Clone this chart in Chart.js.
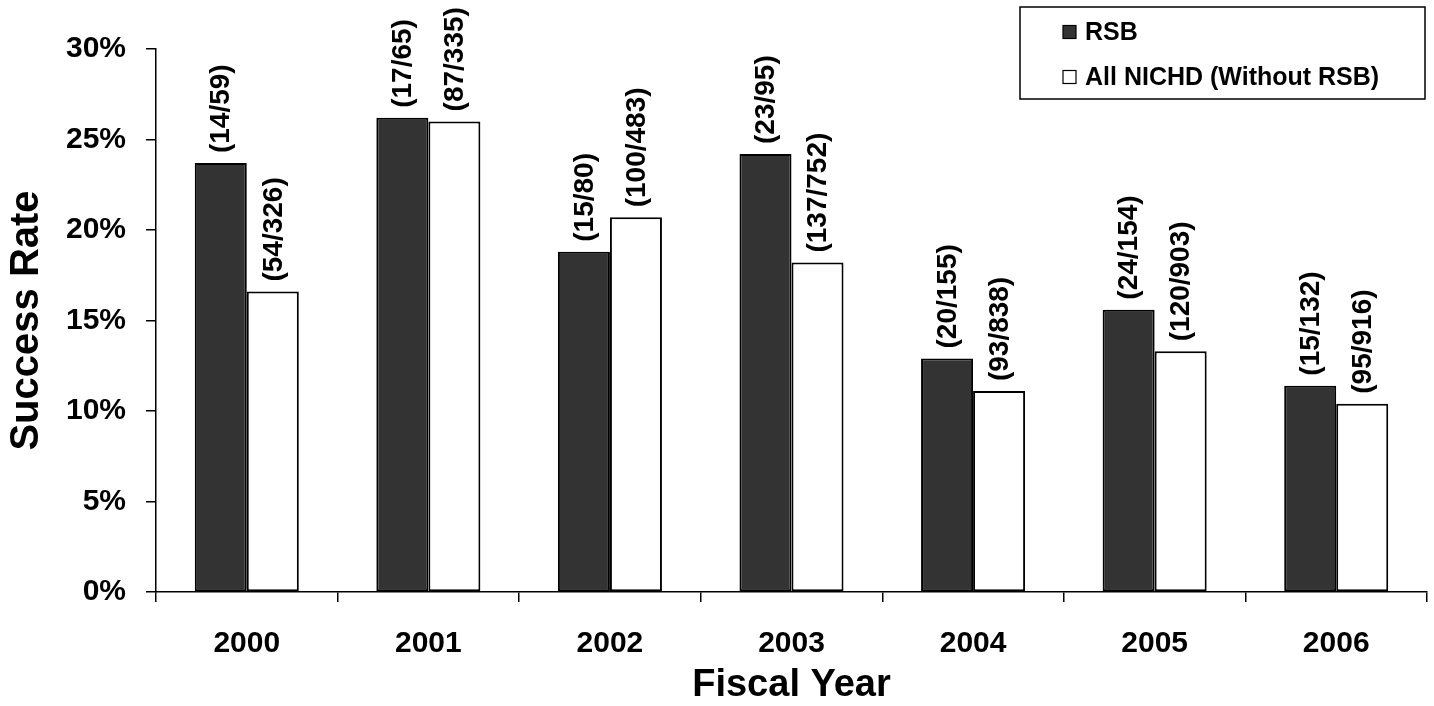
<!DOCTYPE html>
<html>
<head>
<meta charset="utf-8">
<script src="https://cdn.jsdelivr.net/npm/chart.js@4"></script>
<style>
html,body{margin:0;padding:0;background:#fff;}
canvas{display:block;}
</style>
</head>
<body>
<canvas id="c" width="1434" height="706"></canvas>
<script>
// ---- data ----
const years = ['2000','2001','2002','2003','2004','2005','2006'];
const rsbRates = [23.7, 26.2, 18.8, 24.2, 12.9, 15.6, 11.4];
const nichdRates = [16.6, 26.0, 20.7, 18.2, 11.1, 13.3, 10.4];
const rsbLabels = ['(14/59)','(17/65)','(15/80)','(23/95)','(20/155)','(24/154)','(15/132)'];
const nichdLabels = ['(54/326)','(87/335)','(100/483)','(137/752)','(93/838)','(120/903)','(95/916)'];
const seriesNames = ['RSB','All NICHD (Without RSB)'];
const yTickMax = 30, yTickStep = 5;

const FONT = '"Liberation Sans", Arial, Helvetica, sans-serif';

const barLabelPlugin = {
  id: 'barLabels',
  afterDatasetsDraw(chart) {
    const ctx = chart.ctx;
    const lists = [rsbLabels, nichdLabels];
    ctx.save();
    ctx.font = 'bold 28px ' + FONT;
    ctx.fillStyle = '#000';
    ctx.textAlign = 'left';
    ctx.textBaseline = 'middle';
    chart.data.datasets.forEach((ds, di) => {
      const meta = chart.getDatasetMeta(di);
      meta.data.forEach((bar, i) => {
        ctx.save();
        ctx.translate(bar.x + 1, bar.y - 10);
        ctx.rotate(-Math.PI / 2);
        ctx.fillText(lists[di][i], 0, 0);
        ctx.restore();
      });
    });
    ctx.restore();
  }
};

const legendBoxPlugin = {
  id: 'legendBox',
  afterDraw(chart) {
    const ctx = chart.ctx;
    ctx.save();
    ctx.strokeStyle = '#000';
    ctx.lineWidth = 1.5;
    ctx.fillStyle = '#fff';
    ctx.fillRect(1020, 7, 405, 92);
    ctx.strokeRect(1020, 7, 405, 92);
    ctx.font = 'bold 25px ' + FONT;
    ctx.textBaseline = 'middle';
    ctx.textAlign = 'left';
    const rows = [32, 77];
    chart.data.datasets.forEach((ds, di) => {
      const y = rows[di];
      ctx.fillStyle = ds.backgroundColor;
      ctx.fillRect(1063, y - 6.5, 13, 13);
      ctx.lineWidth = 1.2;
      ctx.strokeStyle = '#000';
      ctx.strokeRect(1063, y - 6.5, 13, 13);
      ctx.fillStyle = '#000';
      ctx.fillText(ds.label, 1085, y + 1);
    });
    ctx.restore();
  }
};

new Chart(document.getElementById('c'), {
  type: 'bar',
  data: {
    labels: years,
    datasets: [
      { label: seriesNames[0], data: rsbRates, backgroundColor: '#333333', borderColor: '#000', borderWidth: 2, borderSkipped: false },
      { label: seriesNames[1], data: nichdRates, backgroundColor: '#ffffff', borderColor: '#000', borderWidth: 2, borderSkipped: false }
    ]
  },
  options: {
    responsive: false,
    animation: false,
    devicePixelRatio: 1,
    layout: { padding: { left: 0, right: 7, top: 49, bottom: 0 } },
    plugins: { legend: { display: false }, tooltip: { enabled: false } },
    datasets: { bar: { barPercentage: 1.0, categoryPercentage: 0.573 } },
    scales: {
      x: {
        afterFit(s) { s.height = 114; },
        grid: { display: true, offset: true, drawOnChartArea: false, drawTicks: true, tickLength: 10, color: '#000', lineWidth: 1.5 },
        border: { display: true, color: '#000', width: 1.5 },
        ticks: { color: '#000', font: { family: FONT, size: 30, weight: 'bold' }, padding: 24, maxRotation: 0 },
        title: { display: true, text: 'Fiscal Year', color: '#000', font: { family: FONT, size: 38, weight: 'bold', lineHeight: 1 }, padding: { top: 0, bottom: 1 } }
      },
      y: {
        min: 0, max: yTickMax,
        afterFit(s) { s.width = 156; },
        grid: { display: true, drawOnChartArea: false, drawTicks: true, tickLength: 10, color: '#000', lineWidth: 1.5 },
        border: { display: true, color: '#000', width: 1.5 },
        ticks: { stepSize: yTickStep, color: '#000', font: { family: FONT, size: 30, weight: 'bold' }, padding: 20, callback: v => v + '%' },
        title: { display: true, text: 'Success Rate', color: '#000', font: { family: FONT, size: 40, weight: 'bold', lineHeight: 1.2 }, padding: { top: 3, bottom: 0 } }
      }
    }
  },
  plugins: [barLabelPlugin, legendBoxPlugin]
});
</script>
</body>
</html>
